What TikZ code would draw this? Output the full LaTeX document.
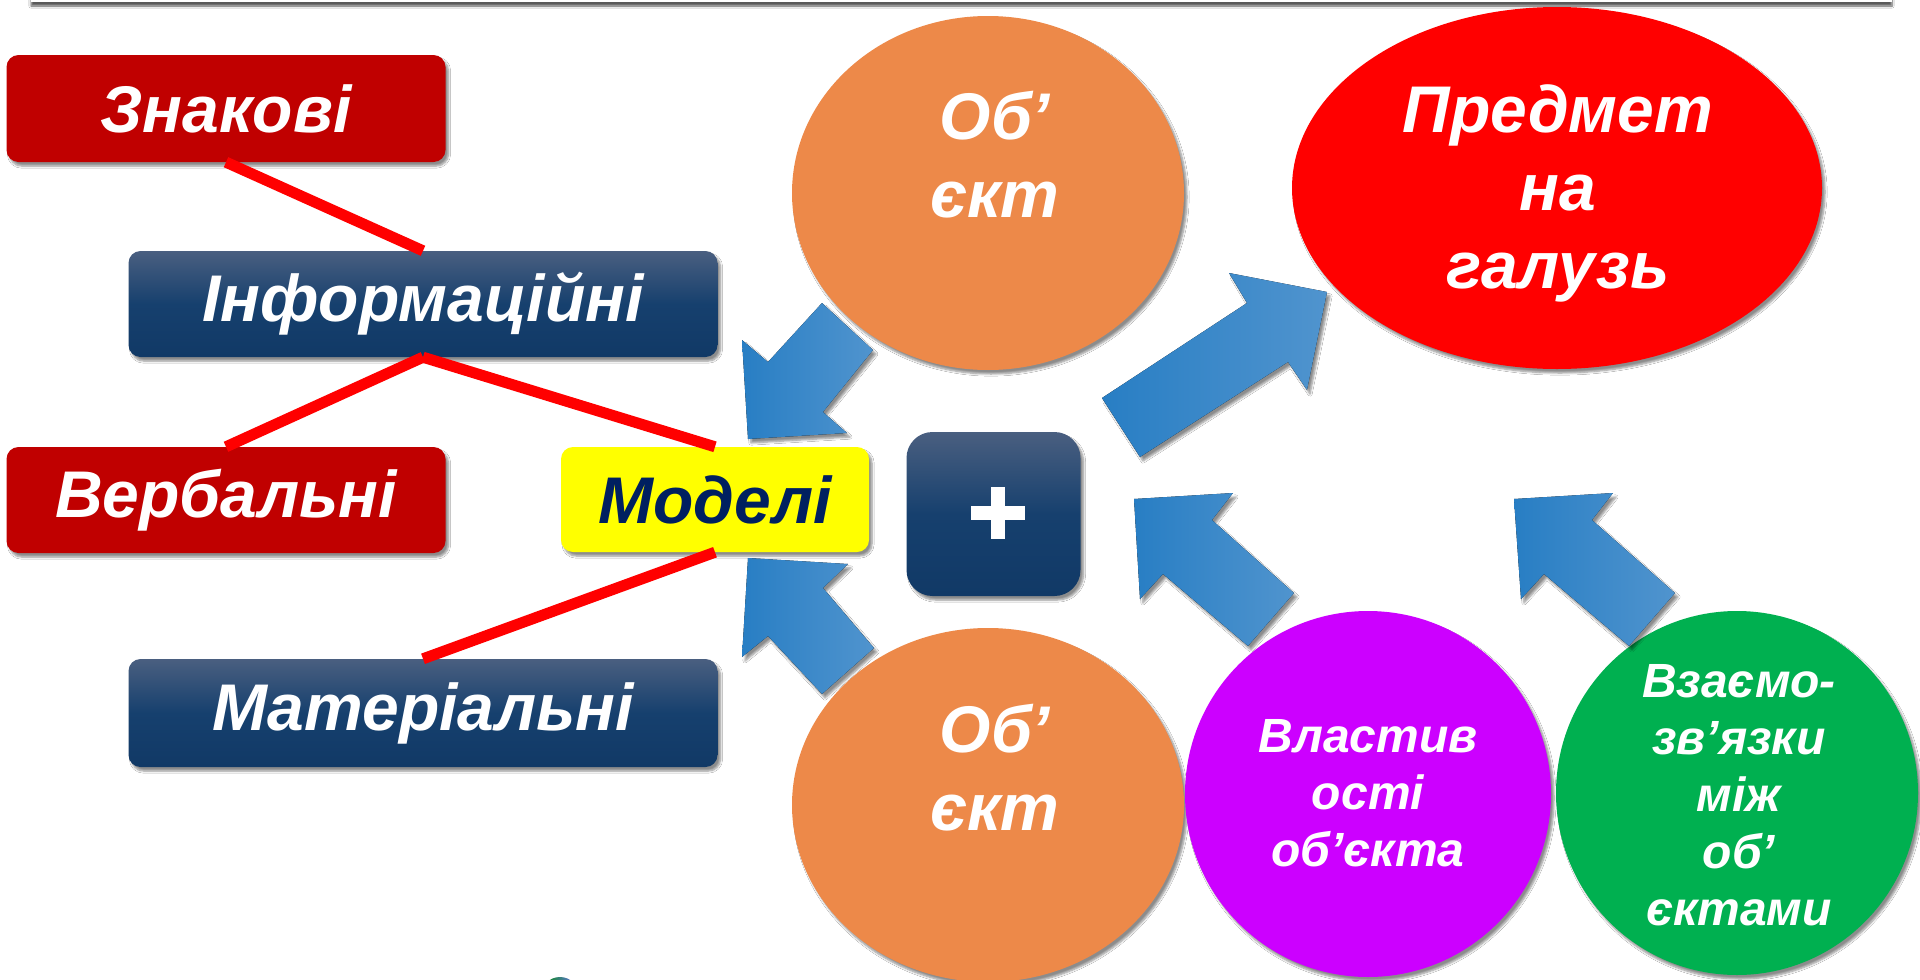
\documentclass[tikz,border=0pt]{standalone}
\usepackage{fontspec}
\setmainfont{Liberation Sans}
\usetikzlibrary{shapes.geometric,shadows.blur}
\definecolor{boxred}{RGB}{192,0,0}
\definecolor{navytop}{RGB}{74,95,128}
\definecolor{navymid}{RGB}{22,64,110}
\definecolor{navybot}{RGB}{17,57,102}
\definecolor{modyellow}{RGB}{255,255,0}
\definecolor{modtext}{RGB}{0,32,96}
\definecolor{objorange}{RGB}{237,137,73}
\definecolor{subred}{RGB}{255,0,0}
\definecolor{propviolet}{RGB}{204,0,255}
\definecolor{relgreen}{RGB}{0,176,80}
\definecolor{arrdark}{RGB}{40,126,196}
\definecolor{arrlight}{RGB}{80,148,206}
\definecolor{linered}{RGB}{255,0,0}
\newcommand{\bigtxt}{\fontsize{66}{78}\selectfont\bfseries\itshape}
\newcommand{\smalltxt}{\fontsize{48}{57}\selectfont\bfseries\itshape}
\tikzset{
  shd/.style={blur shadow={shadow xshift=3pt,shadow yshift=-4pt,shadow blur steps=6,shadow opacity=45}},
  redbox/.style={rectangle,rounded corners=12pt,fill=boxred,text=white,inner sep=0pt,font=\bigtxt,shd},
  navybox/.style={rectangle,rounded corners=12pt,top color=navytop,bottom color=navybot,middle color=navymid,text=white,inner sep=0pt,font=\bigtxt,shd},
  bluearrow/.style={left color=arrdark,right color=arrlight,shd},
  oval/.style={ellipse,inner sep=0pt,shd},
  connector/.style={draw=linered,line width=11pt},
  bigtext/.style={text=white,font=\bigtxt,align=center,inner sep=0pt},
  smalltext/.style={text=white,font=\smalltxt,align=center,inner sep=0pt}
}
\begin{document}
\begin{tikzpicture}[x=1pt,y=-1pt]
\useasboundingbox (0,0) rectangle (1920,980);
\fill[white] (0,0) rectangle (1920,980);
% top bar
\fill[white,blur shadow={shadow xshift=0pt,shadow yshift=-4pt,shadow blur steps=6,shadow opacity=65}] (31,-80) rectangle (1892,2);
% globe fragment
\shade[left color=green!55!black,right color=blue!55] (560,996) circle (19pt);

% ellipses
\node[oval,fill=objorange,minimum width=392pt,minimum height=354pt] (obj1) at (988,193) {};
\node[oval,fill=subred,minimum width=530pt,minimum height=362pt] (subj) at (1557,188) {};
\node[oval,fill=objorange,minimum width=392pt,minimum height=354pt] (obj2) at (988,805) {};
\node[oval,fill=propviolet,minimum width=366pt,minimum height=366pt] (prop) at (1368,794) {};
\node[oval,fill=relgreen,minimum width=362pt,minimum height=364pt] (rel) at (1737,793) {};

% boxes
\node[redbox,minimum width=439pt,minimum height=107pt] (znak) at (226,108.5) {Знакові};
\node[navybox,minimum width=589pt,minimum height=106pt] (info) at (423,304) {Інформаційні};
\node[redbox,minimum width=439pt,minimum height=106pt] (verb) at (226,500) {Вербальні};
\node[navybox,minimum width=589pt,minimum height=108pt] (mat) at (423,713) {Матеріальні};
\node[rectangle,rounded corners=12pt,fill=modyellow,text=modtext,inner sep=0pt,font=\bigtxt,shd,minimum width=308pt,minimum height=105pt] (model) at (715,499.5) {Моделі};
\node[rectangle,rounded corners=26pt,top color=navytop,bottom color=navybot,middle color=navymid,inner sep=0pt,shd,minimum width=174pt,minimum height=164pt] (plus) at (993.5,514) {};
\fill[white] (971,506) rectangle (1025,520);
\fill[white] (991,487) rectangle (1005,539);

% red connectors
\draw[connector] (znak.south) -- (info.north);
\draw[connector] (info.south) -- (verb.north);
\draw[connector] (info.south) -- (model.north);
\draw[connector] (model.south) -- (mat.north);

% block arrows
\fill[bluearrow] (748,439) -- (847,433) -- (823,412) -- (873,350) -- (822,303) -- (768,362) -- (742,340) -- cycle;
\fill[bluearrow] (748,558) -- (848,564) -- (823,588) -- (874,648) -- (822,694) -- (768,636) -- (742,657) -- cycle;
\fill[bluearrow] (1327,292) -- (1229,273) -- (1247,303) -- (1102,398) -- (1140,457) -- (1288,362) -- (1307,390) -- cycle;
\fill[bluearrow] (1134,499) -- (1233,493) -- (1212,520) -- (1294,593) -- (1248,646) -- (1163,574) -- (1140,599) -- cycle;
\fill[bluearrow] (1514,499) -- (1613,493) -- (1592,520) -- (1675,593) -- (1629,646) -- (1544,574) -- (1521,599) -- cycle;

% texts in ellipses
\node[bigtext] (tobj1) at (995,155) {Об’\\єкт};
\node[bigtext] (tobj2) at (995,768) {Об’\\єкт};
\node[bigtext] (tsubj) at (1558,193) {Предмет\\на\\галузь};
\node[smalltext] (tprop) at (1368,793) {Властив\\ості\\об’єкта};
\node[smalltext] (trel) at (1739,795) {Взаємо-\\зв’язки\\між\\об’\\єктами};
\end{tikzpicture}
\end{document}
